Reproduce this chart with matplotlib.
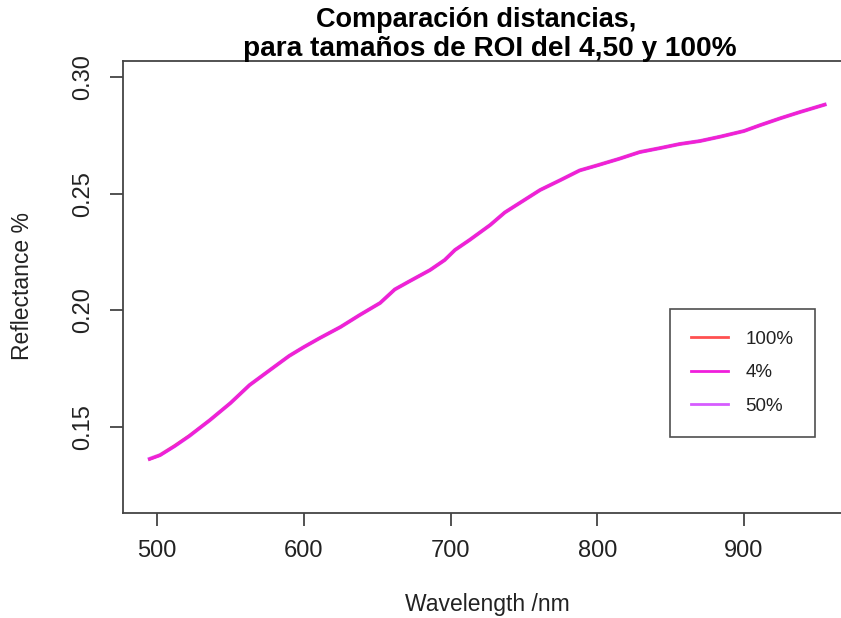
import matplotlib.pyplot as plt

plt.rcParams['font.family'] = ['Liberation Sans', 'DejaVu Sans']

# longitudes de onda (nm) y reflectancia
wavelength = [495, 502, 512, 522, 536, 550, 563, 577, 590, 600, 611, 625, 638,
              652, 662, 672, 686, 696, 703, 713, 727, 737, 747, 761, 775, 788,
              800, 815, 829, 843, 856, 870, 884, 900, 911, 925, 938, 955]
refl_100 = [0.1363, 0.1380, 0.1420, 0.1463, 0.1530, 0.1603, 0.1680, 0.1745,
            0.1805, 0.1843, 0.1882, 0.1929, 0.1980, 0.2032, 0.2090, 0.2125,
            0.2173, 0.2216, 0.2259, 0.2302, 0.2366, 0.2420, 0.2460, 0.2516,
            0.2559, 0.2600, 0.2622, 0.2650, 0.2679, 0.2696, 0.2713, 0.2726,
            0.2745, 0.2769, 0.2794, 0.2824, 0.2850, 0.2882]
refl_4 = [0.1363, 0.1379, 0.1418, 0.1462, 0.1530, 0.1603, 0.1680, 0.1745,
          0.1805, 0.1843, 0.1882, 0.1929, 0.1980, 0.2032, 0.2090, 0.2125,
          0.2173, 0.2216, 0.2259, 0.2302, 0.2366, 0.2420, 0.2460, 0.2516,
          0.2559, 0.2600, 0.2621, 0.2650, 0.2678, 0.2696, 0.2713, 0.2726,
          0.2745, 0.2769, 0.2794, 0.2824, 0.2850, 0.2882]
refl_50 = [0.1364, 0.1380, 0.1419, 0.1462, 0.1530, 0.1603, 0.1680, 0.1745,
           0.1805, 0.1843, 0.1882, 0.1929, 0.1980, 0.2032, 0.2090, 0.2125,
           0.2173, 0.2216, 0.2259, 0.2302, 0.2366, 0.2420, 0.2460, 0.2516,
           0.2559, 0.2600, 0.2622, 0.2650, 0.2679, 0.2696, 0.2713, 0.2726,
           0.2745, 0.2769, 0.2794, 0.2824, 0.2850, 0.2882]

fig = plt.figure(figsize=(8.41, 6.18), dpi=100)
ax = fig.add_axes([123 / 841, 1 - 513 / 618, 729 / 841, 452 / 618])

ax.plot(wavelength, refl_50, color='#D65CFF', lw=2.8, label='50%', zorder=2)
ax.plot(wavelength, refl_100, color='#FF5050', lw=2.0, label='100%', zorder=3)
ax.plot(wavelength, refl_4, color='#F01EDC', lw=2.0, label='4%', zorder=4)

ax.set_xlim(476.8, 973.6)
ax.set_ylim(0.1132, 0.3069)
ax.set_xticks([500, 600, 700, 800, 900])
ax.set_yticks([0.15, 0.20, 0.25, 0.30])
ax.set_yticklabels(['0.15', '0.20', '0.25', '0.30'], rotation=90, va='center')

for s in ax.spines.values():
    s.set_color('#444444')
    s.set_linewidth(1.3)
ax.tick_params(axis='both', length=9.5, width=1.3, color='#444444',
               labelsize=17, labelcolor='#222222')
ax.tick_params(axis='x', pad=10)
ax.tick_params(axis='y', pad=11)

fig.text(487 / 841, 1 - 605 / 618, 'Wavelength /nm', ha='center', va='center',
         fontsize=16.5, color='#222222')
fig.text(23 / 841, 1 - 286 / 618, 'Reflectance %', ha='center', va='center',
         rotation=90, fontsize=16.5, color='#222222')
fig.text(476 / 841, 1 - 20 / 618, 'Comparación distancias,',
         ha='center', va='center', fontsize=19.5, fontweight='bold')
fig.text(490 / 841, 1 - 49 / 618, 'para tamaños de ROI del 4,50 y 100%',
         ha='center', va='center', fontsize=20.2, fontweight='bold')

h, l = ax.get_legend_handles_labels()
order = [1, 2, 0]
leg = ax.legend([h[i] for i in order], [l[i] for i in order],
                loc='upper left', bbox_to_anchor=(0.750, 0.4513),
                fontsize=13.5, frameon=True, fancybox=False, borderpad=1.15,
                labelspacing=0.88, handlelength=1.95,
                handletextpad=0.95, borderaxespad=0)
leg.get_frame().set_edgecolor('#222222')
leg.get_frame().set_linewidth(1.2)
for line in leg.get_lines():
    line.set_linewidth(2.0)
for t in leg.get_texts():
    t.set_color('#222222')

fig.savefig('out.png', dpi=100)
